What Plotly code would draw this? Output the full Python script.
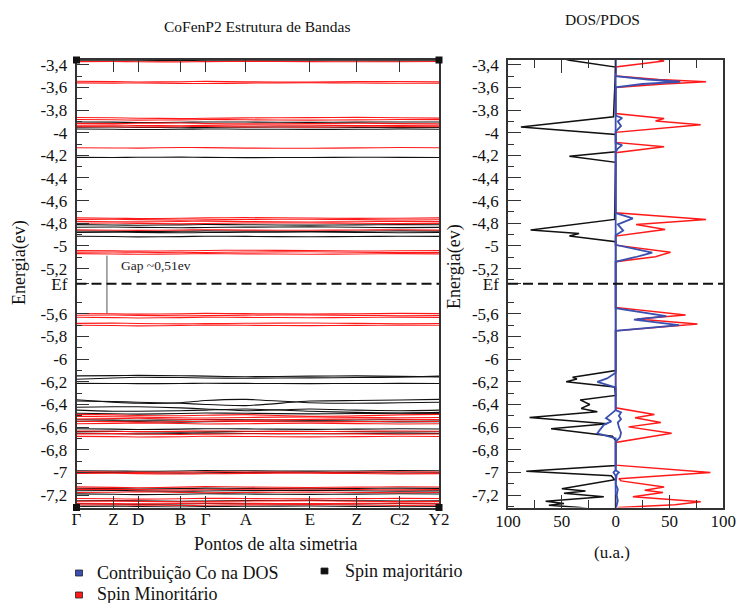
import numpy as np
import plotly.graph_objects as go

W, H = 739, 603


def px(x):
    return x / W


def py(y):
    return 1 - y / H


# ---------------- band structure ----------------
K_LABELS = ["Γ", "Z", "D", "B", "Γ", "A", "E", "Z", "C2", "Y2"]
K_POS = [0.0, 0.102, 0.170, 0.287, 0.356, 0.467, 0.644, 0.773, 0.892, 1.0]

# spin-majority bands (eV) at the high-symmetry points
MAJ_BANDS = [
    [-3.364, -3.366, -3.365, -3.363, -3.365, -3.366, -3.364, -3.365, -3.366, -3.364],
    [-3.905, -3.907, -3.910, -3.908, -3.905, -3.906, -3.909, -3.907, -3.905, -3.906],
    [-3.952, -3.950, -3.953, -3.956, -3.954, -3.951, -3.950, -3.953, -3.955, -3.953],
    [-3.968, -3.970, -3.972, -3.970, -3.967, -3.969, -3.971, -3.970, -3.968, -3.969],
    [-4.218, -4.219, -4.217, -4.216, -4.218, -4.220, -4.219, -4.217, -4.218, -4.219],
    [-4.812, -4.815, -4.817, -4.814, -4.811, -4.813, -4.816, -4.814, -4.812, -4.813],
    [-4.835, -4.833, -4.836, -4.839, -4.837, -4.834, -4.832, -4.835, -4.838, -4.836],
    [-4.868, -4.870, -4.873, -4.871, -4.867, -4.869, -4.872, -4.870, -4.867, -4.869],
    [-4.880, -4.878, -4.881, -4.884, -4.882, -4.879, -4.877, -4.880, -4.883, -4.881],
    [-4.915, -4.917, -4.920, -4.918, -4.914, -4.916, -4.919, -4.917, -4.914, -4.916],
    [-6.148, -6.145, -6.143, -6.146, -6.150, -6.155, -6.150, -6.148, -6.152, -6.156],
    [-6.178, -6.166, -6.160, -6.162, -6.166, -6.168, -6.165, -6.162, -6.160, -6.150],
    [-6.214, -6.215, -6.216, -6.215, -6.213, -6.214, -6.216, -6.215, -6.214, -6.215],
    [-6.358, -6.380, -6.390, -6.385, -6.365, -6.355, -6.385, -6.390, -6.385, -6.380],
    [-6.370, -6.375, -6.380, -6.390, -6.400, -6.410, -6.370, -6.365, -6.360, -6.355],
    [-6.425, -6.420, -6.420, -6.430, -6.440, -6.455, -6.440, -6.450, -6.455, -6.450],
    [-6.450, -6.460, -6.460, -6.455, -6.450, -6.440, -6.460, -6.470, -6.475, -6.470],
    [-6.478, -6.482, -6.485, -6.480, -6.476, -6.478, -6.483, -6.480, -6.477, -6.479],
    [-6.535, -6.538, -6.540, -6.537, -6.533, -6.535, -6.539, -6.537, -6.534, -6.536],
    [-6.550, -6.548, -6.552, -6.556, -6.553, -6.549, -6.547, -6.551, -6.554, -6.552],
    [-6.615, -6.618, -6.621, -6.618, -6.614, -6.616, -6.620, -6.618, -6.615, -6.617],
    [-6.640, -6.638, -6.641, -6.645, -6.642, -6.639, -6.637, -6.640, -6.643, -6.641],
    [-6.655, -6.658, -6.660, -6.657, -6.653, -6.656, -6.659, -6.657, -6.654, -6.656],
    [-6.985, -6.987, -6.990, -6.988, -6.984, -6.986, -6.989, -6.987, -6.984, -6.986],
    [-7.002, -7.000, -7.003, -7.006, -7.004, -7.001, -6.999, -7.002, -7.005, -7.003],
    [-7.140, -7.143, -7.146, -7.143, -7.139, -7.141, -7.144, -7.142, -7.139, -7.141],
    [-7.162, -7.160, -7.163, -7.167, -7.164, -7.161, -7.159, -7.162, -7.165, -7.163],
    [-7.190, -7.193, -7.196, -7.193, -7.189, -7.191, -7.194, -7.192, -7.189, -7.191],
    [-7.250, -7.248, -7.251, -7.255, -7.252, -7.249, -7.247, -7.250, -7.253, -7.251],
    [-7.276, -7.279, -7.282, -7.279, -7.275, -7.277, -7.280, -7.278, -7.275, -7.277],
    [-7.300, -7.298, -7.301, -7.305, -7.302, -7.299, -7.297, -7.300, -7.303, -7.301],
]

# spin-minority bands (eV) at the high-symmetry points
MIN_BANDS = [
    [-3.372, -3.371, -3.373, -3.375, -3.372, -3.370, -3.372, -3.374, -3.373, -3.371],
    [-3.546, -3.549, -3.552, -3.550, -3.547, -3.551, -3.553, -3.549, -3.548, -3.550],
    [-3.560, -3.562, -3.561, -3.564, -3.566, -3.562, -3.559, -3.561, -3.563, -3.562],
    [-3.866, -3.868, -3.872, -3.875, -3.873, -3.869, -3.867, -3.865, -3.868, -3.871],
    [-3.884, -3.886, -3.889, -3.887, -3.884, -3.886, -3.889, -3.887, -3.884, -3.885],
    [-3.918, -3.920, -3.917, -3.915, -3.919, -3.922, -3.920, -3.917, -3.919, -3.921],
    [-3.934, -3.932, -3.936, -3.938, -3.935, -3.932, -3.934, -3.937, -3.935, -3.933],
    [-3.946, -3.948, -3.950, -3.947, -3.945, -3.949, -3.951, -3.948, -3.946, -3.948],
    [-4.133, -4.135, -4.136, -4.131, -4.132, -4.136, -4.138, -4.134, -4.131, -4.133],
    [-4.752, -4.755, -4.758, -4.756, -4.752, -4.750, -4.754, -4.757, -4.755, -4.752],
    [-4.767, -4.765, -4.768, -4.772, -4.770, -4.766, -4.764, -4.768, -4.771, -4.769],
    [-4.783, -4.786, -4.788, -4.784, -4.781, -4.785, -4.789, -4.786, -4.783, -4.785],
    [-4.800, -4.798, -4.801, -4.804, -4.802, -4.798, -4.797, -4.800, -4.803, -4.801],
    [-4.858, -4.861, -4.863, -4.860, -4.857, -4.860, -4.862, -4.859, -4.857, -4.860],
    [-5.040, -5.043, -5.046, -5.044, -5.040, -5.038, -5.041, -5.045, -5.043, -5.040],
    [-5.055, -5.053, -5.056, -5.060, -5.058, -5.054, -5.052, -5.056, -5.059, -5.057],
    [-5.068, -5.071, -5.074, -5.071, -5.068, -5.070, -5.073, -5.071, -5.068, -5.070],
    [-5.597, -5.599, -5.602, -5.600, -5.596, -5.598, -5.601, -5.599, -5.596, -5.598],
    [-5.612, -5.610, -5.613, -5.617, -5.615, -5.611, -5.609, -5.613, -5.616, -5.614],
    [-5.630, -5.633, -5.636, -5.633, -5.629, -5.631, -5.634, -5.632, -5.629, -5.631],
    [-5.684, -5.682, -5.685, -5.688, -5.686, -5.683, -5.681, -5.684, -5.687, -5.685],
    [-5.700, -5.703, -5.706, -5.703, -5.699, -5.701, -5.704, -5.702, -5.699, -5.701],
    [-6.488, -6.492, -6.498, -6.500, -6.495, -6.490, -6.505, -6.500, -6.492, -6.488],
    [-6.505, -6.508, -6.512, -6.518, -6.520, -6.515, -6.510, -6.514, -6.518, -6.515],
    [-6.528, -6.525, -6.522, -6.530, -6.535, -6.540, -6.532, -6.528, -6.530, -6.534],
    [-6.548, -6.552, -6.556, -6.552, -6.548, -6.550, -6.555, -6.552, -6.548, -6.550],
    [-6.570, -6.567, -6.565, -6.568, -6.572, -6.570, -6.566, -6.569, -6.572, -6.570],
    [-6.635, -6.637, -6.640, -6.638, -6.634, -6.636, -6.639, -6.637, -6.634, -6.636],
    [-6.660, -6.658, -6.661, -6.664, -6.662, -6.659, -6.657, -6.660, -6.663, -6.661],
    [-6.682, -6.684, -6.687, -6.685, -6.681, -6.683, -6.686, -6.684, -6.681, -6.683],
    [-6.995, -6.997, -7.000, -6.998, -6.994, -6.996, -6.999, -6.997, -6.994, -6.996],
    [-7.010, -7.008, -7.011, -7.014, -7.012, -7.009, -7.007, -7.010, -7.013, -7.011],
    [-7.128, -7.132, -7.135, -7.130, -7.126, -7.129, -7.133, -7.130, -7.127, -7.129],
    [-7.150, -7.148, -7.152, -7.156, -7.153, -7.149, -7.147, -7.151, -7.154, -7.152],
    [-7.178, -7.175, -7.172, -7.176, -7.180, -7.177, -7.174, -7.177, -7.180, -7.178],
    [-7.230, -7.233, -7.236, -7.233, -7.229, -7.231, -7.234, -7.232, -7.229, -7.231],
    [-7.255, -7.252, -7.256, -7.260, -7.257, -7.253, -7.251, -7.255, -7.258, -7.256],
    [-7.272, -7.275, -7.278, -7.275, -7.271, -7.273, -7.276, -7.274, -7.271, -7.273],
    [-7.288, -7.286, -7.289, -7.292, -7.290, -7.287, -7.285, -7.288, -7.291, -7.289],
]

E_FERMI = -5.335
GAP = 0.51
GAP_TOP = -5.085
GAP_K = 0.084

# ---------------- DOS / PDOS ----------------
MAJ_E = [-3.33, -3.36, -3.42, -3.86, -3.95, -4.015, -4.168, -4.207, -4.262,
         -4.766, -4.86, -4.89, -4.913, -4.963, -6.10, -6.16, -6.175, -6.20,
         -6.245, -6.32, -6.36, -6.40, -6.435, -6.465, -6.515, -6.57, -6.615,
         -6.68, -6.72, -6.94, -6.99, -7.03, -7.065, -7.145, -7.165, -7.185,
         -7.215, -7.255, -7.275, -7.29, -7.31, -7.33]
MAJ_DOS = [55, 43, 0, 2, 88, 0, 0, 43, 0,
           1, 79, 34, 43, 0, 0, 40, 36, 46,
           1, 0, 33, 24, 32, 17, 80, 8, 60,
           3, 0, 0, 83, 4, 1, 50, 28, 48,
           11, 65, 48, 62, 33, 20]

MIN_E = [-3.33, -3.367, -3.42, -3.50, -3.53, -3.55, -3.57, -3.60, -3.83,
         -3.874, -3.897, -3.93, -3.997, -4.086, -4.124, -4.148, -4.177,
         -4.707, -4.766, -4.81, -4.855, -4.875, -4.913, -4.993, -5.03, -5.055,
         -5.095, -5.14, -5.543, -5.611, -5.645, -5.69, -5.75, -6.43, -6.489,
         -6.518, -6.56, -6.598, -6.655, -6.736, -6.936, -7.002, -7.055, -7.075,
         -7.128, -7.158, -7.178, -7.216, -7.26, -7.285, -7.31, -7.33]
MIN_DOS = [30, 45, 0, 0, 40, 84, 45, 0, 0,
           45, 37, 79, 0, 0, 45, 25, 0,
           0, 84, 19, 46, 30, 0, 0, 30, 51,
           37, 0, 0, 65, 20, 76, 0, 0, 36,
           18, 42, 12, 52, 0, 0, 88, 3, 5,
           45, 27, 44, 16, 79, 55, 3, 0]

CO_MAJ_E = [-3.33, -6.12, -6.17, -6.20, -6.25, -6.45, -6.52, -6.55, -6.58,
            -6.62, -6.655, -6.70, -6.98, -7.00, -7.03, -7.33]
CO_MAJ_DOS = [0, 0, 8, 17, 0, 0, 9, 4, 11,
              14, 17, 0, 0, 2, 0, 0]

CO_MIN_E = [-3.33, -3.50, -3.53, -3.55, -3.57, -3.60, -3.85, -3.87, -3.90,
            -3.94, -3.99, -4.09, -4.11, -4.14, -4.17, -4.71, -4.757, -4.81,
            -4.865, -4.905, -4.99, -5.03, -5.06, -5.10, -5.14, -5.55, -5.62,
            -5.65, -5.70, -5.75, -6.45, -6.47, -6.50, -6.53, -6.56, -6.60,
            -6.65, -6.69, -6.73, -6.98, -7.00, -7.02, -7.10, -7.15, -7.20,
            -7.25, -7.33]
CO_MIN_DOS = [0, 0, 30, 60, 25, 0, 0, 6, 2,
              5, 0, 0, 6, 2, 0, 0, 16, 2,
              7, 0, 0, 18, 34, 18, 0, 0, 47,
              17, 59, 0, 0, 5, 3, 5, 2, 3,
              5, 4, 0, 0, 3, 1, 0, 2, 1,
              2, 0]

# energy axis ticks
E_TICKS = [-3.4, -3.6, -3.8, -4.0, -4.2, -4.4, -4.6, -4.8, -5.0, -5.2, E_FERMI,
           -5.6, -5.8, -6.0, -6.2, -6.4, -6.6, -6.8, -7.0, -7.2]
E_TICKTEXT = ["-3,4", "-3,6", "-3,8", "-4", "-4,2", "-4,4", "-4,6", "-4,8", "-5",
              "-5,2", "Ef", "-5,6", "-5,8", "-6", "-6,2", "-6,4", "-6,6", "-6,8",
              "-7", "-7,2"]
DOS_TICKS = [-100, -50, 0, 50, 100]
DOS_TICKTEXT = ["100", "50", "0", "50", "100"]

E_RANGE = [-7.31, -3.358]
FONT = "Liberation Serif, Times New Roman, serif"
RED = "#ff1a1a"
BLUE = "#3a4fb0"

fig = go.Figure()

for band in MAJ_BANDS:
    fig.add_trace(go.Scatter(x=K_POS, y=band, mode="lines",
                             line=dict(color="#111111", width=1.1, shape="spline", smoothing=0.5),
                             xaxis="x", yaxis="y", hoverinfo="skip", showlegend=False))
for band in MIN_BANDS:
    fig.add_trace(go.Scatter(x=K_POS, y=band, mode="lines",
                             line=dict(color=RED, width=1.1, shape="spline", smoothing=0.5),
                             xaxis="x", yaxis="y", hoverinfo="skip", showlegend=False))

# gap marker
fig.add_trace(go.Scatter(x=[GAP_K, GAP_K], y=[GAP_TOP, GAP_TOP - GAP], mode="lines",
                         line=dict(color="#555555", width=1),
                         xaxis="x", yaxis="y", hoverinfo="skip", showlegend=False))

# DOS: majority to the left, minority to the right
fig.add_trace(go.Scatter(x=-np.array(MAJ_DOS), y=MAJ_E, mode="lines",
                         line=dict(color="#111111", width=1.5),
                         xaxis="x2", yaxis="y2", hoverinfo="skip", showlegend=False))
fig.add_trace(go.Scatter(x=MIN_DOS, y=MIN_E, mode="lines",
                         line=dict(color=RED, width=1.5),
                         xaxis="x2", yaxis="y2", hoverinfo="skip", showlegend=False))
fig.add_trace(go.Scatter(x=-np.array(CO_MAJ_DOS), y=CO_MAJ_E, mode="lines",
                         line=dict(color=BLUE, width=1.8),
                         xaxis="x2", yaxis="y2", hoverinfo="skip", showlegend=False))
fig.add_trace(go.Scatter(x=CO_MIN_DOS, y=CO_MIN_E, mode="lines",
                         line=dict(color=BLUE, width=1.8),
                         xaxis="x2", yaxis="y2", hoverinfo="skip", showlegend=False))

minor_e = [round(-3.5 - 0.2 * i, 1) for i in range(20)]
tickfont = dict(family=FONT, size=17, color="#111111")

yaxis_common = dict(
    range=E_RANGE, tickmode="array", tickvals=E_TICKS, ticktext=E_TICKTEXT,
    ticks="inside", ticklen=13, tickwidth=1.2, tickcolor="#333333",
    minor=dict(tickmode="array", tickvals=minor_e, ticks="inside", ticklen=6,
               tickwidth=1.2, tickcolor="#333333"),
    showline=True, linecolor="#333333", linewidth=1.5, mirror=True,
    showgrid=False, zeroline=False, tickfont=tickfont, automargin=False,
    ticklabelstandoff=4,
)

fig.update_layout(
    width=W, height=H,
    margin=dict(l=0, r=0, t=0, b=0),
    paper_bgcolor="white", plot_bgcolor="white",
    showlegend=False,
    font=dict(family=FONT, color="#111111"),
    xaxis=dict(domain=[px(76.5), px(439)], range=[0, 1],
               tickmode="array", tickvals=K_POS, ticktext=K_LABELS,
               ticks="inside", ticklen=12, tickwidth=1.2, tickcolor="#333333",
               showline=True, linecolor="#333333", linewidth=1.5, mirror="ticks",
               showgrid=False, zeroline=False, tickfont=tickfont, automargin=False,
               ticklabelstandoff=-5),
    yaxis=dict(domain=[py(507.5), py(60)], anchor="x", **yaxis_common),
    xaxis2=dict(domain=[px(508), px(723.3)], range=[-100, 100], anchor="y2",
                tickmode="array", tickvals=DOS_TICKS, ticktext=DOS_TICKTEXT,
                ticks="inside", ticklen=13, tickwidth=1.2, tickcolor="#333333",
                minor=dict(tickmode="array", tickvals=[-75, -25, 25, 75], ticks="inside",
                           ticklen=8, tickwidth=1.2, tickcolor="#333333"),
                showline=True, linecolor="#333333", linewidth=1.5, mirror="ticks",
                showgrid=False, zeroline=False, tickfont=tickfont, automargin=False,
                ticklabelstandoff=-3),
    yaxis2=dict(domain=[py(507.5), py(60)], anchor="x2", **yaxis_common),
)

# Fermi level
for xr, yr in (("x domain", "y"), ("x2 domain", "y2")):
    fig.add_shape(type="line", xref=xr, yref=yr, x0=0, x1=1, y0=E_FERMI, y1=E_FERMI,
                  line=dict(color="#111111", width=2, dash="10px,5px"))

# corner handles of the band panel
for cx, cy in ((76.5, 60), (439, 60), (76.5, 507.5), (439, 507.5)):
    fig.add_shape(type="rect", xref="paper", yref="paper",
                  x0=px(cx - 3.5), x1=px(cx + 3.5), y0=py(cy + 3.5), y1=py(cy - 3.5),
                  fillcolor="#111111", line=dict(width=0))

texts = [
    ("CoFenP2 Estrutura de Bandas", 257, 26, 15.5, "center", 0),
    ("DOS/PDOS", 602, 20, 15.5, "center", 0),
    ("Energia(ev)", 19, 263, 18, "center", -90),
    ("Energia(ev)", 454, 267, 18, "center", -90),
    ("Pontos de alta simetria", 275, 544, 18, "center", 0),
    ("(u.a.)", 612, 552, 17, "center", 0),
    ("Contribuição Co na DOS", 95, 573, 18, "left", 0),
    ("Spin majoritário", 343, 571, 18, "left", 0),
    ("Spin Minoritário", 95, 594, 18, "left", 0),
]
for txt, x, y, size, anchor, ang in texts:
    fig.add_annotation(text=txt, xref="paper", yref="paper", x=px(x), y=py(y),
                       xanchor=anchor, yanchor="middle", showarrow=False, textangle=ang,
                       font=dict(family=FONT, size=size, color="#111111"))

fig.add_annotation(text="Gap ~0,51ev", xref="x", yref="y", x=0.117, y=-5.169,
                   xanchor="left", yanchor="middle", showarrow=False,
                   font=dict(family=FONT, size=13.5, color="#222222"))

# legend swatches
for color, cx, cy in ((BLUE, 79, 573), ("#111111", 324.5, 571), (RED, 79, 595)):
    fig.add_shape(type="rect", xref="paper", yref="paper",
                  x0=px(cx - 3.5), x1=px(cx + 3.5), y0=py(cy + 3), y1=py(cy - 3),
                  fillcolor=color, line=dict(color="#222222", width=0.8))

fig.write_html("out.html")
